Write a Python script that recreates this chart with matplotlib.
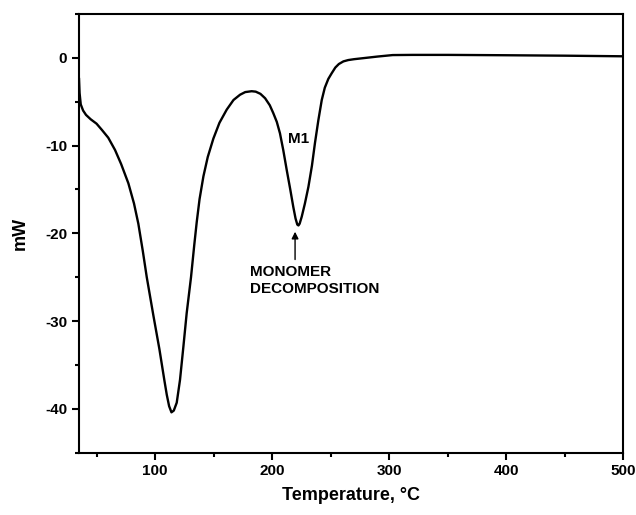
import numpy as np
import matplotlib
matplotlib.use("Agg")
import matplotlib.pyplot as plt
from matplotlib.ticker import MultipleLocator

plt.rcParams['font.family'] = ['Liberation Sans', 'DejaVu Sans']
plt.rcParams['axes.unicode_minus'] = False

temperature = [35, 35.5, 36.5, 38.5, 41, 45, 50, 54.5, 60, 65.8, 71, 77.2, 82, 85.7,
               89.5, 92.9, 98.6, 103.7, 108, 110, 112, 114, 116, 118.5, 121.3, 124.2,
               127, 130.7, 133.5, 135.6, 138, 141.3, 145, 149.8, 155, 161.2, 167, 172.6,
               177, 182.5, 186, 190, 194, 198, 201, 204, 206.7, 209.5, 212.5, 215.5,
               218.1, 220, 221.5, 222.5, 223.5, 225.3, 228, 231, 234, 236.6, 239.5,
               242.4, 245, 248, 250.9, 254, 257, 260.9, 265, 270, 280, 290, 303, 320,
               350, 400, 450, 500]
heat_flow = [-2.3, -4.0, -5.3, -6.0, -6.5, -7.0, -7.5, -8.2, -9.1, -10.5, -12.1, -14.3,
             -16.6, -18.9, -22.0, -25.0, -29.4, -33.2, -36.8, -38.4, -39.7, -40.4, -40.2,
             -39.3, -36.7, -32.9, -29.1, -25.0, -21.3, -18.7, -16.1, -13.5, -11.3, -9.2,
             -7.4, -5.9, -4.8, -4.2, -3.9, -3.8, -3.85, -4.1, -4.6, -5.4, -6.3, -7.3,
             -8.6, -10.5, -12.8, -15.0, -17.0, -18.3, -19.0, -19.1, -18.9, -18.1, -16.6,
             -14.7, -12.3, -9.7, -7.1, -4.8, -3.4, -2.4, -1.75, -1.1, -0.7, -0.4, -0.25,
             -0.15, 0.0, 0.15, 0.32, 0.34, 0.34, 0.3, 0.25, 0.18]

x_ticks = [100, 200, 300, 400, 500]
y_ticks = [0, -10, -20, -30, -40]

fig = plt.figure(figsize=(6.36, 5.15), dpi=100)
ax = fig.add_axes([0.1242, 0.121, 0.8558, 0.8518])
ax.plot(temperature, heat_flow, color='black', lw=1.7,
        solid_joinstyle='round', solid_capstyle='round')

ax.set_xlim(35, 500)
ax.set_ylim(-45, 5)
ax.set_xticks(x_ticks)
ax.set_yticks(y_ticks)
ax.xaxis.set_minor_locator(MultipleLocator(50))
ax.yaxis.set_minor_locator(MultipleLocator(5))
ax.tick_params(which='major', direction='out', length=5, width=1.5, labelsize=11)
ax.tick_params(which='minor', direction='out', length=3, width=1.5)
for lab in ax.get_xticklabels() + ax.get_yticklabels():
    lab.set_fontweight('bold')
for s in ax.spines.values():
    s.set_linewidth(1.5)

ax.set_xlabel('Temperature, °C', fontsize=13, fontweight='bold', labelpad=6)
ax.set_ylabel('mW', fontsize=13, fontweight='bold', labelpad=12)

ax.text(222.5, -9.3, 'M1', fontsize=11, fontweight='bold', ha='center', va='center')
ax.annotate('', xy=(219.6, -19.5), xytext=(219.6, -23.3),
            arrowprops=dict(arrowstyle='-|>', color='black', lw=1.0, mutation_scale=10))
ax.text(181, -23.6, 'MONOMER\nDECOMPOSITION', fontsize=11, fontweight='bold',
        ha='left', va='top', linespacing=1.25)

fig.savefig('out.png', dpi=100)
